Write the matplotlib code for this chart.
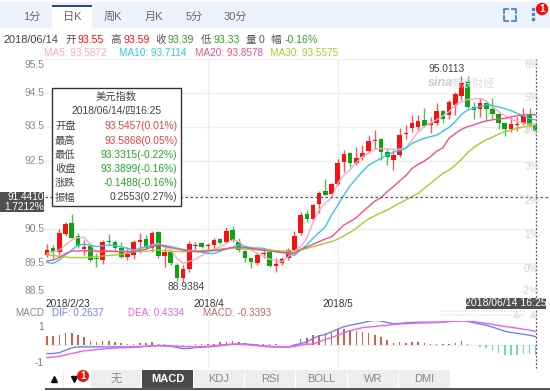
import numpy as np
import matplotlib
matplotlib.use('Agg')
import matplotlib.pyplot as plt
from matplotlib.patches import Rectangle, Circle

plt.rcParams['font.family'] = ['Liberation Sans', 'Noto Sans CJK SC', 'DejaVu Sans']

# ============================== DATA ==============================
opens = [89.74,89.94,89.81,90.34,90.67,90.30,89.90,90.01,89.66,89.59,90.15,90.13,89.95,89.69,89.75,90.13,
         90.21,89.93,90.42,89.72,89.81,89.44,89.05,89.32,90.01,90.10,90.00,90.03,90.20,90.13,90.47,90.13,
         89.85,89.66,89.49,89.76,89.83,89.42,89.49,89.64,89.88,90.37,90.94,90.78,91.24,91.61,91.53,91.82,
         92.47,92.73,92.43,92.61,92.79,93.10,93.15,92.76,92.54,92.68,93.28,93.46,93.49,93.72,93.56,93.63,
         93.98,93.85,94.15,94.41,94.85,94.10,94.02,94.20,94.03,93.88,93.61,93.43,93.56,93.61,93.87,93.55]
highs = [90.05,90.03,90.50,90.70,90.93,90.37,90.18,90.03,89.79,90.18,90.34,90.18,90.11,89.98,90.18,90.37,
         90.32,90.44,90.44,89.93,89.88,89.49,89.44,90.15,90.13,90.12,90.08,90.25,90.25,90.57,90.59,90.23,
         89.88,89.66,89.83,89.93,89.88,89.64,89.69,89.95,90.44,91.01,91.06,91.24,91.62,91.97,91.86,92.55,
         92.82,92.76,92.92,92.97,93.27,93.41,93.17,92.87,92.82,93.46,93.56,93.85,93.85,94.07,93.80,94.20,
         94.00,94.29,94.54,95.00,95.00,94.24,94.34,94.24,94.34,93.90,93.63,93.80,93.80,94.05,94.05,93.59]
lows = [89.69,89.59,89.74,90.30,90.23,89.93,89.74,89.54,89.39,89.46,90.03,89.85,89.66,89.59,89.62,89.78,
        89.91,89.83,89.66,89.39,89.44,88.97,88.95,89.25,89.88,89.93,89.83,89.88,90.06,90.08,90.13,89.83,
        89.54,89.34,89.44,89.64,89.39,89.23,89.44,89.59,89.83,90.32,90.72,90.77,90.96,91.50,91.50,91.79,
        92.19,92.33,92.38,92.53,92.73,92.85,92.53,92.38,92.25,92.61,93.15,93.36,93.41,93.51,93.31,93.56,
        93.63,93.75,93.85,94.29,94.05,93.73,93.80,93.69,93.75,93.43,93.23,93.36,93.39,93.56,93.51,93.33]
closes = [89.88,89.83,90.37,90.66,90.25,90.01,89.96,89.59,89.62,90.11,90.11,89.93,89.69,89.75,90.13,90.19,
          89.95,90.37,89.72,89.81,89.49,89.05,89.32,90.05,90.03,89.96,90.03,90.18,90.10,90.44,90.18,89.88,
          89.64,89.54,89.73,89.80,89.42,89.46,89.61,89.88,90.30,90.91,90.78,91.21,91.55,91.51,91.81,92.45,
          92.70,92.43,92.58,92.75,93.09,93.12,92.76,92.61,92.68,93.27,93.31,93.63,93.69,93.53,93.61,93.97,
          93.75,94.24,94.46,94.80,94.08,94.00,94.22,94.03,93.87,93.61,93.43,93.58,93.59,93.82,93.56,93.39]

ma5_i = [0,2,4,5,6,7,8,10,12,14,16,18,20,21,22,24,26,28,30,31,32,34,36,38,39,40,41,42,43,44,45,46,47,48,49,50,51,52,53,
         54,55,56,57,58,59,60,61,63,65,66,67,68,69,70,71,72,73,74,75,76,77,78,79]
ma5 = [89.78,89.88,90.18,90.25,90.25,90.05,89.83,89.85,89.85,89.85,89.98,90.08,89.88,89.64,89.49,89.61,89.83,89.98,90.18,
       90.13,89.98,89.78,89.61,89.54,89.69,89.85,89.98,90.23,90.70,91.06,91.26,91.42,91.84,92.09,92.24,92.46,92.63,92.73,92.85,
       92.87,92.85,92.84,92.85,92.89,93.12,93.36,93.51,93.71,93.95,94.15,94.24,94.31,94.32,94.34,94.27,94.10,93.95,93.83,93.73,
       93.66,93.61,93.59,93.587]
ma10_i = [0,1,2,3,4,5,6,7,8,10,12,14,16,18,20,22,24,26,27,29,31,33,35,37,39,40,41,42,43,44,45,46,47,48,49,50,51,52,53,54,55,
          56,57,58,59,60,61,63,64,65,66,67,68,69,70,71,72,73,74,75,76,77,78,79]
ma10 = [89.52,89.49,89.59,89.74,89.88,90.03,90.05,90.03,89.98,90.03,89.98,89.88,89.98,90.05,89.98,89.90,89.85,89.78,89.78,89.91,
        90.03,89.95,89.93,89.83,89.78,89.72,89.88,90.03,90.23,90.40,90.57,90.91,91.20,91.50,91.77,91.99,92.19,92.38,92.48,92.58,92.68,
        92.76,92.80,92.87,93.02,93.10,93.17,93.26,93.38,93.49,93.66,93.87,94.00,94.05,94.10,94.15,94.13,94.09,94.04,93.98,93.90,93.83,
        93.75,93.711]
ma20_i = [0,1,2,3,4,6,8,10,12,14,16,18,20,22,24,26,28,30,32,34,36,37,40,41,42,43,44,45,46,47,48,49,50,51,52,53,54,55,56,57,58,59,
          60,61,62,63,64,65,66,67,68,69,70,71,72,73,74,75,76,77,78,79]
ma20 = [89.56,89.59,89.66,89.78,89.85,89.86,89.85,89.85,89.83,89.83,89.91,90.03,89.95,89.88,89.83,89.85,89.88,89.95,89.95,89.91,
        89.85,89.83,89.78,89.90,89.97,90.05,90.13,90.21,90.27,90.44,90.62,90.72,90.83,91.01,91.16,91.32,91.42,91.60,91.75,91.91,92.07,
        92.28,92.40,92.50,92.63,92.79,92.89,93.17,93.31,93.43,93.51,93.56,93.63,93.68,93.71,93.74,93.75,93.80,93.83,93.85,93.87,93.858]
ma30_i = [0,2,4,6,8,10,12,14,16,18,20,22,24,26,28,30,32,34,36,38,40,41,42,43,44,45,46,47,48,49,50,51,52,53,54,55,56,57,58,59,60,
          61,62,63,64,65,66,67,68,69,70,71,72,73,74,75,76,77,78,79]
ma30 = [89.74,89.70,89.66,89.66,89.69,89.72,89.75,89.83,89.85,89.88,89.85,89.83,89.85,89.88,89.91,89.95,89.91,89.88,89.88,89.85,
        89.85,89.88,89.93,89.98,90.03,90.08,90.13,90.20,90.30,90.40,90.52,90.67,90.80,90.89,90.98,91.06,91.16,91.26,91.35,91.45,91.55,
        91.70,91.84,91.99,92.14,92.23,92.38,92.55,92.75,92.90,93.02,93.12,93.20,93.29,93.36,93.41,93.46,93.50,93.53,93.5575]

macd = [0.28,0.28,0.33,0.39,0.37,0.31,0.24,0.13,0.09,0.11,0.11,0.09,0.04,0.03,0.03,0.06,0.04,0.09,0.02,0.01,
        -0.02,-0.09,-0.09,-0.07,0.01,0.01,0.03,0.03,0.07,0.07,0.11,0.09,0.06,0.02,0.01,0.01,0.01,0.01,-0.01,-0.01,
        0.03,0.17,0.20,0.31,0.33,0.37,0.41,0.50,0.52,0.48,0.44,0.41,0.39,0.33,0.26,0.14,0.06,0.07,0.06,0.07,
        0.07,0.04,0.03,0.03,0.01,0.03,0.04,0.10,0.01,-0.03,-0.08,-0.13,-0.20,-0.28,-0.34,-0.36,-0.34,-0.33,-0.33,-0.34]
dif_i = [0,1,2,3,4,5,6,8,10,12,14,16,18,20,21,22,23,24,26,28,30,32,34,36,37,38,39,40,41,42,43,44,45,46,47,48,49,50,51,52,53,54,
         55,56,57,58,59,60,62,64,65,66,67,68,69,70,71,72,73,74,75,76,77,78,79]
dif = [-0.30,-0.30,-0.27,-0.19,-0.11,-0.08,-0.08,-0.08,-0.08,-0.08,-0.08,-0.06,-0.04,-0.06,-0.10,-0.14,-0.13,-0.10,-0.08,-0.04,0.01,0.02,
       -0.02,-0.06,-0.08,-0.08,-0.09,-0.02,0.03,0.09,0.20,0.29,0.33,0.42,0.51,0.59,0.64,0.68,0.72,0.77,0.80,0.78,0.73,0.69,0.70,0.72,0.73,
       0.74,0.74,0.74,0.77,0.79,0.80,0.77,0.72,0.68,0.64,0.58,0.51,0.44,0.40,0.37,0.34,0.31,0.2637]
dea_i = [0,2,4,6,8,10,12,14,16,18,20,22,24,26,28,30,32,34,36,38,40,41,42,43,44,45,46,47,48,49,50,51,52,53,54,55,56,57,58,59,60,62,
         63,65,66,67,68,69,70,71,72,73,74,75,76,77,78,79]
dea = [-0.44,-0.39,-0.30,-0.21,-0.17,-0.13,-0.11,-0.10,-0.06,-0.03,-0.04,-0.07,-0.08,-0.06,-0.02,0.01,0.00,-0.04,-0.08,-0.09,-0.07,-0.02,
       0.02,0.01,0.09,0.17,0.23,0.31,0.39,0.46,0.51,0.56,0.58,0.60,0.62,0.64,0.67,0.68,0.69,0.70,0.71,0.72,0.73,0.76,0.77,0.78,0.78,0.76,
       0.73,0.70,0.67,0.63,0.60,0.57,0.54,0.51,0.48,0.4334]

price_ticks = [88.5,89.5,90.5,91.5,92.5,93.5,94.5,95.5]
month_ticks = [26.0, 47.0]

tabs = ['1分','日K','周K','月K','5分','30分']
tab_x = [32,72,113,154,194,235]
pct_labels = ['6%','5%','4%','3%','2%','1%','0%','-2%']
pct_y = [65,98,132,167,201,235,269,291]
price_labels = ['95.5','94.5','93.5','92.5','90.5','89.5','88.5']
price_y = [65,93,126,161,229,263,291]

RED = '#fa1010'
GRN = '#0aa50f'
C5, C10, C20, C30 = '#ffa8c4', '#35c8e6', '#f2508c', '#a8cc30'
FS = 7.4

# ============================== FIGURE ==============================
W, H = 550, 391
fig = plt.figure(figsize=(W/100, H/100), dpi=100)
fig.patch.set_facecolor('white')

def box(l, t, r, b):
    return [l/W, 1-b/H, (r-l)/W, (b-t)/H]

# ------------------------ price panel --------------------------
ax = fig.add_axes(box(45, 59, 537, 297))
ax.set_xlim(-0.323, 79.21)
ax.set_ylim(88.5, 95.5)
ax.set_yticks(price_ticks)
ax.set_xticks(month_ticks)
ax.grid(color='#eeeeee', lw=1)
ax.set_axisbelow(True)
ax.tick_params(length=0, labelleft=False, labelbottom=False)
for s in ax.spines.values():
    s.set_visible(False)

idx = np.arange(len(opens))
o, h, l, c = map(np.array, (opens, highs, lows, closes))
up = c >= o
cols = np.where(up, RED, GRN)
ax.vlines(idx, l, h, colors=cols, lw=1.0, alpha=0.7, zorder=2)
ax.bar(idx, np.maximum(np.abs(c-o), 0.03), bottom=np.minimum(o, c), width=0.74, color=cols, lw=0, zorder=3)
ax.plot(ma5_i, ma5, color=C5, lw=1.0, zorder=4)
ax.plot(ma10_i, ma10, color=C10, lw=1.0, zorder=4)
ax.plot(ma30_i, ma30, color=C30, lw=1.0, zorder=4)
ax.plot(ma20_i, ma20, color=C20, lw=1.0, zorder=5)

# ------------------------ macd panel --------------------------
ax2 = fig.add_axes(box(45, 321, 537, 368))
ax2.set_xlim(-0.323, 79.21)
ax2.set_ylim(-0.78, 0.78)
ax2.set_yticks([0])
ax2.set_xticks(month_ticks)
ax2.grid(color='#eeeeee', lw=1)
ax2.tick_params(length=0, labelleft=False, labelbottom=False)
for s in ax2.spines.values():
    s.set_visible(False)
m = np.array(macd)
ax2.bar(idx, m, width=0.25, color=np.where(m >= 0, '#d2604f', '#6fdcb4'), lw=0, zorder=2)
ax2.plot(dif_i, dif, color='#6f82f5', lw=1.0, zorder=3)
ax2.plot(dea_i, dea, color='#f060ee', lw=1.0, zorder=4)

# ------------------------ overlay in pixel coords --------------------------
ui = fig.add_axes([0, 0, 1, 1], zorder=10)
ui.set_xlim(0, W)
ui.set_ylim(H, 0)
ui.axis('off')

def txt(x, y, s, color='#444444', size=FS, ha='left', **kw):
    ui.text(x, y, s, color=color, fontsize=size, ha=ha, va='center', **kw)

def rect(l, t, r, b, fc, ec='none', lw=0, z=1):
    ui.add_patch(Rectangle((l, t), r-l, b-t, fc=fc, ec=ec, lw=lw, zorder=z))

# tab bar
rect(0, 2, 550, 28, '#edf3fc')
rect(52, 5, 92, 29, 'white')
rect(52, 5, 92, 6.5, '#2b4a96', z=2)
for x, s in zip(tab_x, tabs):
    txt(x, 17, s, color='#666666', size=8, ha='center')

# top right icons
ui.plot([504,504,508], [13,8.5,8.5], color='#4a86d0', lw=1.3)
ui.plot([512,516,516], [8.5,8.5,13], color='#4a86d0', lw=1.3)
ui.plot([504,504,508], [16,20.5,20.5], color='#4a86d0', lw=1.3)
ui.plot([512,516,516], [20.5,20.5,16], color='#4a86d0', lw=1.3)
ui.plot([533,533,533], [9,14,19], ls='none', marker='s', ms=2, color='#4a86d0')
ui.add_patch(Circle((542, 9), 6.2, fc='#f01010', ec='none', zorder=3))
ui.text(542, 9, '1', color='white', fontsize=7, fontweight='bold', ha='center', va='center', zorder=4)

# quote rows
row1 = [(3,'2018/06/14','#444444'),(65,'开','#555555'),(78,'93.55',RED),(110,'高','#555555'),(123,'93.59',RED),
        (155,'收','#555555'),(168,'93.39','#22aa22'),(201,'低','#555555'),(214,'93.33','#22aa22'),
        (246,'量','#555555'),(259,'0','#555555'),(270,'幅','#555555'),(285,'-0.16%','#22aa22')]
for x, s, col in row1:
    txt(x, 40, s, color=col, size=7.9 if x == 3 else 7.6)
row2 = [(44,'MA5: 93.5872',C5),(119,'MA10: 93.7114',C10),(195,'MA20: 93.8578',C20),(270,'MA30: 93.5575',C30)]
for x, s, col in row2:
    txt(x, 53, s, color=col, size=7.2)

# axis labels
for y, s in zip(price_y, price_labels):
    txt(44.5, y, s, color='#888888', ha='right')
for y, s in zip(pct_y, pct_labels):
    txt(539, y, s, color='#d0d0d0', ha='right')
txt(45, 304, '2018/2/23', color='#333333', size=7.2)
txt(209, 304, '2018/4', color='#333333', ha='center', size=7.2)
txt(338, 304, '2018/5', color='#333333', ha='center', size=7.2)
txt(186, 287, '88.9384', ha='center')
txt(447, 69, '95.0113', ha='center')
ui.text(428, 83, 'sina', color='#cccccc', fontsize=9, fontweight='bold', style='italic', ha='left', va='center')
ui.text(451, 83, '新浪财经', color='#dddddd', fontsize=8, ha='left', va='center')

# crosshair
ui.plot([45, 550], [197, 197], color='#555555', lw=0.9, ls=(0, (2, 2)))
ui.plot([535.5, 535.5], [59, 368], color='#555555', lw=0.9, ls=(0, (1.5, 1.5)))
rect(0, 192, 44, 212, '#505050', z=3)
ui.text(44, 197, '91.4410', color='white', fontsize=7.2, ha='right', va='center', zorder=4)
ui.text(44, 207, '1.7212%', color='white', fontsize=7.2, ha='right', va='center', zorder=4)
rect(466, 298, 546, 309, '#505050', z=3)
ui.text(506, 303.5, '2018/06/14 16:25', color='white', fontsize=7.6, ha='center', va='center', zorder=4)

# tooltip
rect(52, 87.5, 181, 206, 'white', ec='#333333', lw=1, z=5)
def ttxt(x, y, s, color='#444444', ha='left'):
    ui.text(x, y, s, color=color, fontsize=FS, ha=ha, va='center', zorder=6)
ttxt(116.5, 97, '美元指数', ha='center')
ttxt(116.5, 111, '2018/06/14/四16:25', ha='center')
tip_y = [126, 140.5, 155, 169, 183, 197.5]
tip_names = ['开盘','最高','最低','收盘','涨跌','振幅']
tip_vals = ['93.5457(0.01%)','93.5868(0.05%)','93.3315(-0.22%)','93.3899(-0.16%)','-0.1488(-0.16%)','0.2553(0.27%)']
tip_cols = ['#f04040','#f04040','#22aa22','#22aa22','#22aa22','#444444']
for y, n, v, col in zip(tip_y, tip_names, tip_vals, tip_cols):
    ttxt(55, y, n)
    ttxt(177.5, y, v, color=col, ha='right')

# macd legend
txt(15, 313, 'MACD', color='#888888', size=7.1)
txt(52, 313, 'DIF: 0.2637', color='#6f82f5', size=7.1)
txt(128, 313, 'DEA: 0.4334', color='#f060ee', size=7.1)
txt(203, 313, 'MACD: -0.3393', color='#c86060', size=7.1)
txt(44, 326.5, '1', color='#777777', ha='right')
txt(44, 363, '-1', color='#777777', ha='right')
ui.scatter(np.arange(442, 526, 3), [311]*28, s=1, marker='s', color='#eeeeee', lw=0)
ui.scatter(np.arange(442, 526, 3), [315]*28, s=1, marker='s', color='#eeeeee', lw=0)
ui.plot([516, 533], [314, 314], ls='none', marker='^', ms=5, color='#e8e8e8')

# bottom toolbar
rect(45, 388, 550, 389.5, '#555555')
ui.plot([53.5], [379], marker='^', ms=5, color='#111111')
ui.plot([73.5], [379], marker='v', ms=5, color='#111111')
rect(63, 370, 64, 388, '#eeeeee')
ui.add_patch(Circle((83, 376), 6, fc='#f01010', ec='none', zorder=3))
ui.text(83, 376, '1', color='white', fontsize=7, fontweight='bold', ha='center', va='center', zorder=4)
btn_l = [91,142,194,245,296,348,399]
btn_r = [141,193,244,295,347,398,450]
btn_s = ['无','MACD','KDJ','RSI','BOLL','WR','DMI']
for bl, br, s in zip(btn_l, btn_r, btn_s):
    active = s == 'MACD'
    rect(bl, 370, br, 388, '#4a4a4a' if active else '#eeeeee')
    ui.text((bl+br)/2, 379, s, color='white' if active else '#888888', fontsize=8,
            fontweight='bold' if active else 'normal', ha='center', va='center', zorder=4)

fig.savefig('out.png', dpi=100)
